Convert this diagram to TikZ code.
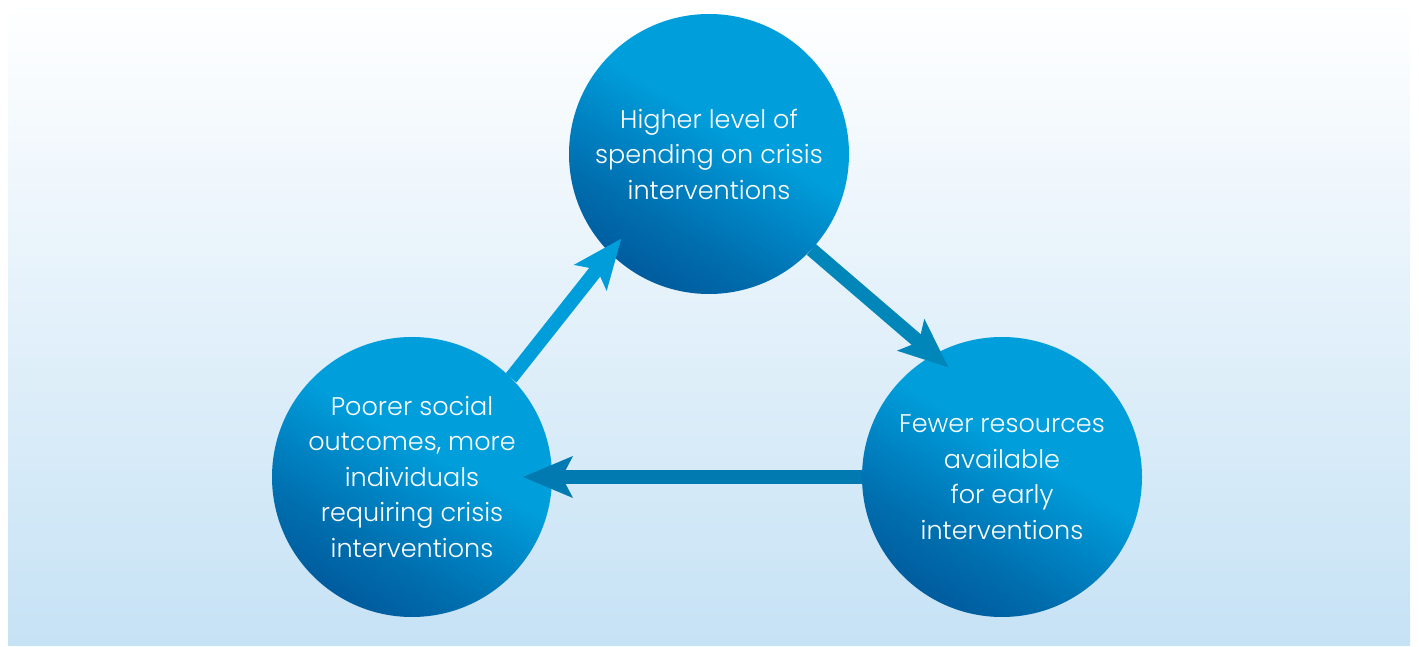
\documentclass[tikz,border=0pt]{standalone}
\usepackage{fontspec}
\setmainfont{Poppins}[UprightFont={* Light}]
\usetikzlibrary{arrows.meta,calc}
\definecolor{bgtop}{RGB}{255,255,255}
\definecolor{bgbot}{RGB}{198,226,245}
\definecolor{ballight}{RGB}{0,159,220}
\definecolor{balmid}{RGB}{0,132,196}
\definecolor{balmidd}{RGB}{0,110,174}
\definecolor{baldark}{RGB}{0,92,158}
\definecolor{arrA}{RGB}{0,157,219}
\definecolor{arrB}{RGB}{0,134,184}
\definecolor{arrC}{RGB}{0,122,176}
\pgfdeclareverticalshading{ballshade}{100bp}{color(0bp)=(baldark); color(25bp)=(baldark); color(35bp)=(balmidd); color(45bp)=(balmid); color(56bp)=(ballight); color(100bp)=(ballight)}
\tikzset{
  ball/.style={circle, minimum size=280pt, inner sep=0pt, outer sep=0pt,
    shading=ballshade, shading angle=-30,
    text=white, align=center, font=\fontsize{25.5}{35.5}\selectfont},
  flow/.style={line width=14pt,
    -{Stealth[length=50pt,width=42pt,inset=11pt,line width=0pt]}}
}
\begin{document}
\begin{tikzpicture}[x=1pt,y=1pt]
\useasboundingbox (0,0) rectangle (1419,646);
\shade[top color=bgtop, bottom color=bgbot] (8,1) rectangle (1410,646);
\node[ball] (T) at (709,492) {Higher level of\\spending on crisis\\interventions};
\node[ball] (L) at (412,169) {Poorer social\\outcomes, more\\individuals\\requiring crisis\\interventions};
\node[ball] (R) at (1002,169) {Fewer resources\\available\\for early\\interventions};
\coordinate (tA) at ($(T)+(224:122)$);
\coordinate (tB) at ($(R)+(116:122)$);
\coordinate (tC) at ($(L)+(0:111)$);
\draw[flow, draw=arrA, fill=arrA] (L.45) -- (tA);
\draw[flow, draw=arrB, fill=arrB] (T.-43) -- (tB);
\draw[flow, draw=arrC, fill=arrC] (R.180) -- (tC);
\end{tikzpicture}
\end{document}
